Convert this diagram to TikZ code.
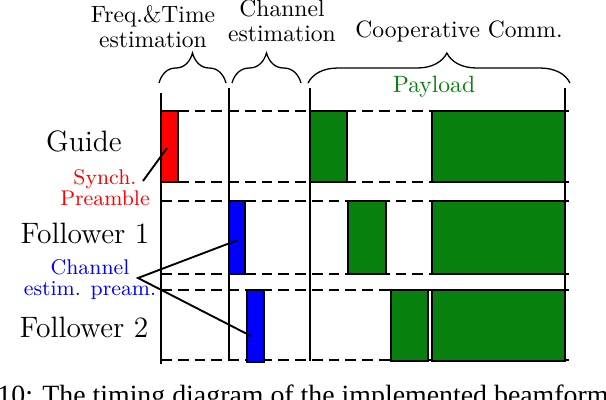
\documentclass[tikz,border=0pt]{standalone}
\usepackage{fontspec}
\newfontfamily\capfont{Liberation Serif}
\usetikzlibrary{decorations.pathreplacing}
\definecolor{payg}{RGB}{8,128,14}
\tikzset{
  timeline/.style={line width=0.85pt},
  slotline/.style={line width=0.8pt, dash pattern=on 4.6pt off 2.5pt},
  pulse/.style={draw=black, line width=0.6pt},
  pointer/.style={line width=0.8pt},
  bracefig/.style={line width=0.55pt, decorate, decoration={brace, amplitude=12.7pt, aspect=0.5}},
  rowlabel/.style={font=\fontsize{12.5}{15}\selectfont, inner sep=0pt, anchor=base},
  toplabel/.style={font=\fontsize{10}{10.2}\selectfont, inner sep=0pt, anchor=base, align=center},
  smalllabel/.style={font=\fontsize{9}{8.5}\selectfont, inner sep=0pt, align=center},
}
\begin{document}
\begin{tikzpicture}[x=0.4237pt, y=-0.4237pt]
\useasboundingbox (0,0) rectangle (606,400);
\clip (0,0) rectangle (606,400);

% dashed slot lines
\foreach \yy in {111,182,201,274,290,360}
  \draw[slotline] (161,\yy) -- (569,\yy);

% pulses
\fill[pulse, fill=red] (161,111) rectangle (178,182);
\fill[pulse, fill=blue] (229,201) rectangle (245,274);
\fill[pulse, fill=blue] (247,290) rectangle (264,362);
\filldraw[pulse, fill=payg] (310,111) rectangle (347,182);
\filldraw[pulse, fill=payg] (432,111) rectangle (565,182);
\filldraw[pulse, fill=payg] (348,201) rectangle (386,274);
\filldraw[pulse, fill=payg] (432,201) rectangle (565,274);
\filldraw[pulse, fill=payg] (391,290) rectangle (428,361);
\filldraw[pulse, fill=payg] (432,290) rectangle (565,361);
\draw[pulse] (161,111) rectangle (178,182);
\draw[pulse] (229,201) rectangle (245,274);
\draw[pulse] (247,290) rectangle (264,362);

% vertical time markers
\draw[timeline] (161,93) -- (161,364);
\draw[timeline] (229,88) -- (229,360);
\draw[timeline] (310,88) -- (310,361);
\draw[timeline] (565,88) -- (565,362);

% braces
\draw[bracefig] (159,83) -- (226,83);
\draw[bracefig] (232,83) -- (301,83);
\draw[bracefig, decoration={aspect=0.53}] (308,83) -- (570,83);

% top labels
\node[toplabel] (ft) at (153,47) {Freq.\&Time\\estimation};
\node[toplabel] (ce) at (282,41) {Channel\\estimation};
\node[toplabel] (cc) at (459,37) {Cooperative Comm.};
\node[toplabel, text=payg] (pl) at (434,92) {Payload};

% row labels
\node[rowlabel] (guide) at (84,151) {Guide};
\node[rowlabel] (f1) at (85,243) {Follower 1};
\node[rowlabel] (f2) at (84,337) {Follower 2};

% small labels
\node[smalllabel, text=red, anchor=base] (synch) at (105,205) {Synch.\\Preamble};
\node[smalllabel, text=blue, anchor=base] (chest) at (90,295) {Channel\\estim. pream.};

% pointers
\coordinate (synchfoot) at (143,181);
\coordinate (synchtip) at (167,148);
\coordinate (chapex) at (138,278);
\coordinate (chtipa) at (238,240);
\coordinate (chtipb) at (251,336);
\draw[pointer] (synchfoot) -- (synchtip);
\draw[pointer] (chtipa) -- (chapex) -- (chtipb);

% caption (cropped)
\node[font=\capfont\fontsize{11.8}{14}\selectfont, inner sep=0pt, anchor=base west] (cap) at (-3,404) {10: The timing diagram of the implemented beamforming scheme};
\end{tikzpicture}
\end{document}
